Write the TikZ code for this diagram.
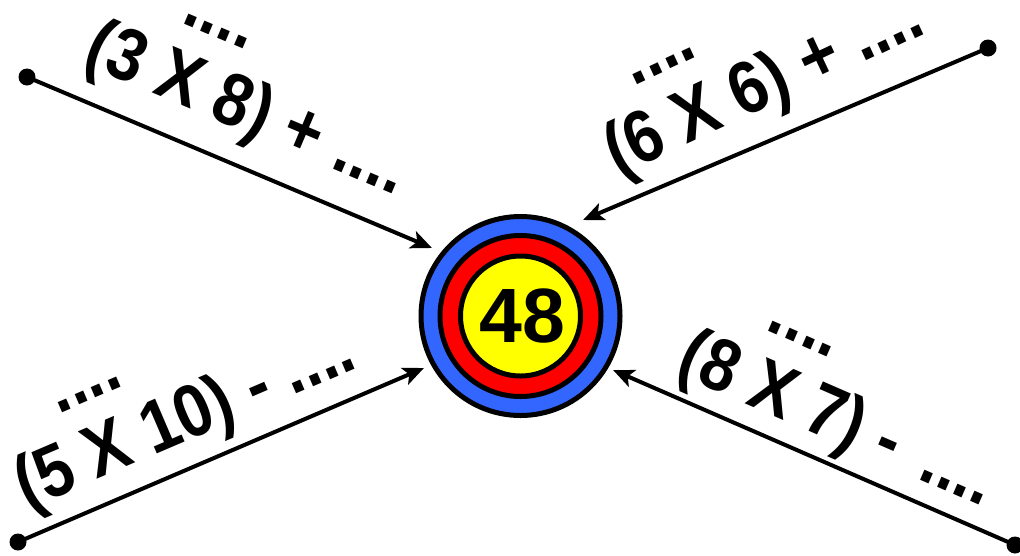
\documentclass[tikz,border=0pt]{standalone}
\usepackage{graphicx}
\usepackage{fontspec}
\setmainfont{Liberation Sans}
\usetikzlibrary{calc,arrows.meta}
\definecolor{tblue}{RGB}{51,102,255}
\definecolor{tred}{RGB}{255,0,0}
\definecolor{tyellow}{RGB}{255,255,0}
\newcommand\overdots[2][0pt]{\ooalign{#2\cr\hidewidth\kern#1\kern#1\raisebox{1.02em}{....}\hidewidth\cr}}
\newcommand\tall[1]{\scalebox{1}[1.14]{#1}}
\begin{document}
\begin{tikzpicture}[x=1pt,y=-1pt,
  ring/.style={circle,draw=black,line width=5pt,inner sep=0pt,minimum size=#1},
  enddot/.style={circle,fill=black,inner sep=0pt,minimum size=17pt},
  conn/.style={line width=4pt,-{Stealth[length=21pt,width=18pt,inset=5pt]}},
  lbl/.style={font=\fontsize{65}{70}\selectfont\bfseries,inner sep=0pt,anchor=base}]
\useasboundingbox (0,0) rectangle (1020,555);
% target
\node[ring=199pt,fill=tblue] (target) at (520.5,316) {};
\node[ring=161pt,fill=tred] (mid) at (target.center) {};
\node[ring=120pt,fill=tyellow] (inner) at (target.center) {};
\node[font=\fontsize{77}{80}\selectfont\bfseries] (num) at ($(target.center)+(2,0)$) {48};
% end dots and arrow tips
\node[enddot] (d1) at (27,77) {};
\node[enddot] (d2) at (988,48) {};
\node[enddot] (d3) at (18,542) {};
\node[enddot] (d4) at (1015,545) {};
\coordinate (t1) at (432,248);
\coordinate (t2) at (583,220);
\coordinate (t3) at (424,368);
\coordinate (t4) at (613,370);
\draw[conn] (d1.center) -- (t1);
\draw[conn] (d2.center) -- (t2);
\draw[conn] (d3.center) -- (t3);
\draw[conn] (d4.center) -- (t4);
% labels
\node[lbl,rotate=-22.9] (l1) at ($($(d1.center)!0.49!(t1)$)!34pt!90:(t1)$) {\tall{(3 \overdots[14pt]{X} 8) + ....}};
\node[lbl,rotate=25] (l2) at ($($(t2)!0.5!(d2.center)$)!32pt!90:(d2.center)$) {\tall{(6 \overdots[-9pt]{X} 6) + ....}};
\node[lbl,rotate=23.2] (l3) at ($($(d3.center)!0.457!(t3)$)!26pt!90:(t3)$) {\tall{(5 \overdots[5pt]{X} 10) - ....}};
\node[lbl,rotate=-23.5] (l4) at ($($(t4)!0.515!(d4.center)$)!22pt!90:(d4.center)$) {\tall{(8 \overdots[4pt]{X} 7) -\, ....}};
\end{tikzpicture}
\end{document}
